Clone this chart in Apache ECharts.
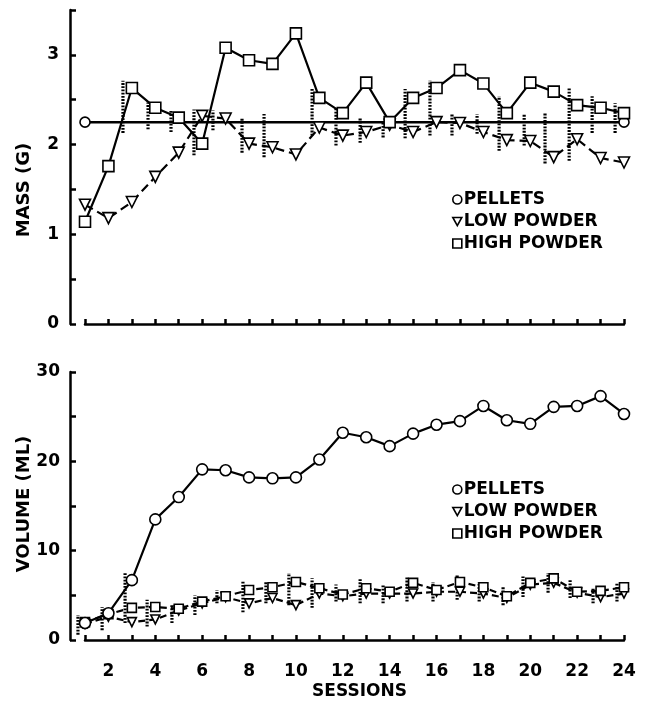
<!DOCTYPE html>
<html>
<head>
<meta charset="utf-8">
<script src="https://cdn.jsdelivr.net/npm/echarts@6/dist/echarts.min.js"></script>
<style>
  html, body { margin: 0; padding: 0; background: #fff; }
  #chart { width: 655px; height: 703px; }
</style>
</head>
<body>
<div id="chart"></div>
<script>
var sessions = [1,2,3,4,5,6,7,8,9,10,11,12,13,14,15,16,17,18,19,20,21,22,23,24];
var sessionTicks = ['2','4','6','8','10','12','14','16','18','20','22','24'];

// mass (g), top panel
var massPellets = [2.25,2.25,2.25,2.25,2.25,2.25,2.25,2.25,2.25,2.25,2.25,2.25,2.25,2.25,2.25,2.25,2.25,2.25,2.25,2.25,2.25,2.25,2.25,2.25];
var massLow = [1.33,1.18,1.36,1.64,1.91,2.32,2.29,2.01,1.97,1.89,2.19,2.10,2.14,2.22,2.14,2.25,2.24,2.14,2.05,2.04,1.86,2.06,1.85,1.80];
var massHigh = [1.14,1.76,2.63,2.41,2.30,2.01,3.08,2.94,2.90,3.24,2.52,2.35,2.69,2.25,2.52,2.63,2.83,2.68,2.35,2.69,2.59,2.44,2.41,2.35];
var massErrX = [2.62,3.69,4.67,5.65,6.46,7.70,8.64,10.69,11.71,12.74,13.72,14.66,15.72,16.66,17.73,18.67,19.74,20.63,21.66,22.64,23.62];
var massErrLo = [2.13,2.17,2.14,1.88,2.16,1.91,1.86,2.10,1.99,2.02,2.08,2.07,2.10,2.10,2.12,1.93,1.99,1.79,1.82,2.13,2.13];
var massErrHi = [2.71,2.47,2.39,2.39,2.38,2.30,2.34,2.62,2.41,2.29,2.24,2.62,2.71,2.34,2.34,2.54,2.34,2.36,2.63,2.54,2.46];

// volume (ml), bottom panel
var volPellets = [1.9,3.0,6.7,13.5,16.0,19.1,19.0,18.2,18.1,18.2,20.2,23.2,22.7,21.7,23.1,24.1,24.5,26.2,24.6,24.2,26.1,26.2,27.3,25.3];
var volLow = [1.8,2.6,2.0,2.3,3.3,4.1,4.8,4.1,4.7,3.9,5.2,4.9,5.2,5.2,5.2,5.4,5.4,5.2,4.7,6.2,6.4,5.3,4.8,5.2];
var volHigh = [2.0,2.9,3.6,3.7,3.5,4.3,4.9,5.6,5.9,6.5,5.8,5.1,5.8,5.4,6.4,5.6,6.5,5.9,4.9,6.4,6.9,5.4,5.5,5.9];
var volErrX = [0.7,1.73,2.71,3.65,4.71,5.69,6.63,7.74,8.72,9.7,10.69,11.71,12.74,13.72,14.74,15.85,16.88,17.82,18.84,19.69,20.76,21.70,22.68,23.7];
var volErrLo = [0.6,1.1,1.9,1.5,1.9,2.8,4.1,3.1,4.1,3.9,3.6,4.3,4.1,4.1,4.3,4.3,4.5,4.3,3.9,4.8,5.3,4.7,4.1,4.3];
var volErrHi = [2.8,3.7,7.6,4.5,3.9,5.0,5.6,6.7,6.5,7.5,6.9,6.2,6.9,6.2,7.1,6.5,7.3,6.5,5.9,7.1,7.5,6.7,5.9,6.4];

var FONT = 'DejaVu Sans';
var downTri = 'path://M0,0 L10,0 L5,9 Z';

function pairs(vals) {
  return vals.map(function (v, i) { return [sessions[i], v]; });
}
function errData(xs, lo, hi) {
  return xs.map(function (x, i) { return [x, lo[i], hi[i]]; });
}
function renderErr(params, api) {
  var a = api.coord([api.value(0), api.value(1)]);
  var b = api.coord([api.value(0), api.value(2)]);
  return {
    type: 'line',
    shape: { x1: a[0], y1: a[1], x2: b[0], y2: b[1] },
    style: { stroke: '#000', lineWidth: 3.2, lineDash: [1.8, 1.4] }
  };
}
var markStyle = { color: '#fff', borderColor: '#000', borderWidth: 1.6 };

var mychart = echarts.init(document.getElementById('chart'));

var xAxisBase = {
  type: 'value', min: 1, max: 24, interval: 1,
  offset: 13,
  axisLine: { lineStyle: { color: '#000', width: 2.5 } },
  axisTick: { inside: true, length: 5, lineStyle: { color: '#000', width: 2.5 } },
  splitLine: { show: false }
};
var legendText = { color: '#000', fontSize: 17, fontWeight: 'bold', fontFamily: FONT, padding: [0, 0, 0, -3] };
var legendItems = [
  { name: 'PELLETS', icon: 'circle', itemStyle: markStyle },
  { name: 'LOW POWDER', icon: downTri, itemStyle: markStyle },
  { name: 'HIGH POWDER', icon: 'rect', itemStyle: markStyle }
];

var option = {
  animation: false,
  backgroundColor: '#fff',
  textStyle: { fontFamily: FONT },
  grid: [
    { left: 85, right: 31, top: 10, height: 314 },
    { left: 85, right: 31, top: 372, height: 268 }
  ],
  xAxis: [
    Object.assign({ gridIndex: 0, axisLabel: { show: false } }, xAxisBase),
    Object.assign({
      gridIndex: 1,
      name: 'SESSIONS', nameLocation: 'middle', nameGap: 30,
      nameTextStyle: { color: '#000', fontSize: 17, fontWeight: 'bold', fontFamily: FONT, padding: [0, 0, 0, 10] },
      axisLabel: {
        color: '#000', fontSize: 17, fontWeight: 'bold', fontFamily: FONT, margin: 10,
        formatter: function (v) { return sessionTicks.indexOf(String(v)) >= 0 ? String(v) : ''; }
      }
    }, xAxisBase)
  ],
  yAxis: [
    {
      gridIndex: 0, type: 'value', min: 0, max: 3.5, interval: 0.5, offset: 15,
      axisLine: { show: true, lineStyle: { color: '#000', width: 2.5 } },
      axisTick: { show: true, inside: true, length: 6, lineStyle: { color: '#000', width: 2.5 } },
      splitLine: { show: false },
      axisLabel: {
        color: '#000', fontSize: 17, fontWeight: 'bold', fontFamily: FONT, margin: 11,
        formatter: function (v) { return v % 1 === 0 && v < 3.5 ? String(v) : ''; }
      }
    },
    {
      gridIndex: 1, type: 'value', min: 0, max: 30, interval: 5, offset: 15,
      axisLine: { show: true, lineStyle: { color: '#000', width: 2.5 } },
      axisTick: { show: true, inside: true, length: 6, lineStyle: { color: '#000', width: 2.5 } },
      splitLine: { show: false },
      axisLabel: {
        color: '#000', fontSize: 17, fontWeight: 'bold', fontFamily: FONT, margin: 10,
        formatter: function (v) { return v % 10 === 0 ? String(v) : ''; }
      }
    }
  ],
  legend: [
    { orient: 'vertical', left: 447, top: 186, itemGap: 5, itemWidth: 9, itemHeight: 9,
      textStyle: legendText, data: legendItems },
    { orient: 'vertical', left: 447, top: 476, itemGap: 5, itemWidth: 9, itemHeight: 9,
      textStyle: legendText, data: legendItems }
  ],
  graphic: [
    { type: 'text', x: 24, y: 190, rotation: Math.PI / 2,
      style: { text: 'MASS (G)', fill: '#000', font: 'bold 18px "DejaVu Sans"', textAlign: 'center', textVerticalAlign: 'middle' } },
    { type: 'text', x: 24, y: 504, rotation: Math.PI / 2,
      style: { text: 'VOLUME (ML)', fill: '#000', font: 'bold 18px "DejaVu Sans"', textAlign: 'center', textVerticalAlign: 'middle' } }
  ],
  series: [
    {
      name: 'mass error', type: 'custom', xAxisIndex: 0, yAxisIndex: 0, clip: false, z: 1,
      renderItem: renderErr, data: errData(massErrX, massErrLo, massErrHi)
    },
    {
      name: 'PELLETS', type: 'line', xAxisIndex: 0, yAxisIndex: 0, z: 3,
      data: massPellets.map(function (v, i) {
        return { value: [sessions[i], v], symbol: (i === 0 || i === massPellets.length - 1) ? 'circle' : 'none' };
      }),
      symbolSize: 10, itemStyle: markStyle,
      lineStyle: { color: '#000', width: 2.5 }
    },
    {
      name: 'LOW POWDER', type: 'line', xAxisIndex: 0, yAxisIndex: 0, z: 4,
      data: pairs(massLow), symbol: 'triangle', symbolRotate: 180, symbolSize: 11,
      itemStyle: markStyle, lineStyle: { color: '#000', width: 2.2, type: [9, 5] }
    },
    {
      name: 'HIGH POWDER', type: 'line', xAxisIndex: 0, yAxisIndex: 0, z: 5,
      data: pairs(massHigh), symbol: 'rect', symbolSize: 11,
      itemStyle: markStyle, lineStyle: { color: '#000', width: 2.2 }
    },
    {
      name: 'volume error', type: 'custom', xAxisIndex: 1, yAxisIndex: 1, clip: false, z: 1,
      renderItem: renderErr, data: errData(volErrX, volErrLo, volErrHi)
    },
    {
      name: 'PELLETS', type: 'line', xAxisIndex: 1, yAxisIndex: 1, z: 5,
      data: pairs(volPellets), symbol: 'circle', symbolSize: 11,
      itemStyle: markStyle, lineStyle: { color: '#000', width: 2.2 }
    },
    {
      name: 'LOW POWDER', type: 'line', xAxisIndex: 1, yAxisIndex: 1, z: 3,
      data: pairs(volLow), symbol: 'triangle', symbolRotate: 180, symbolSize: 9,
      itemStyle: markStyle, lineStyle: { color: '#000', width: 2.2, type: [7, 4] }
    },
    {
      name: 'HIGH POWDER', type: 'line', xAxisIndex: 1, yAxisIndex: 1, z: 4,
      data: pairs(volHigh), symbol: 'rect', symbolSize: 9,
      itemStyle: markStyle, lineStyle: { color: '#000', width: 2.2, type: [7, 4] }
    }
  ]
};

mychart.setOption(option);
</script>
</body>
</html>
